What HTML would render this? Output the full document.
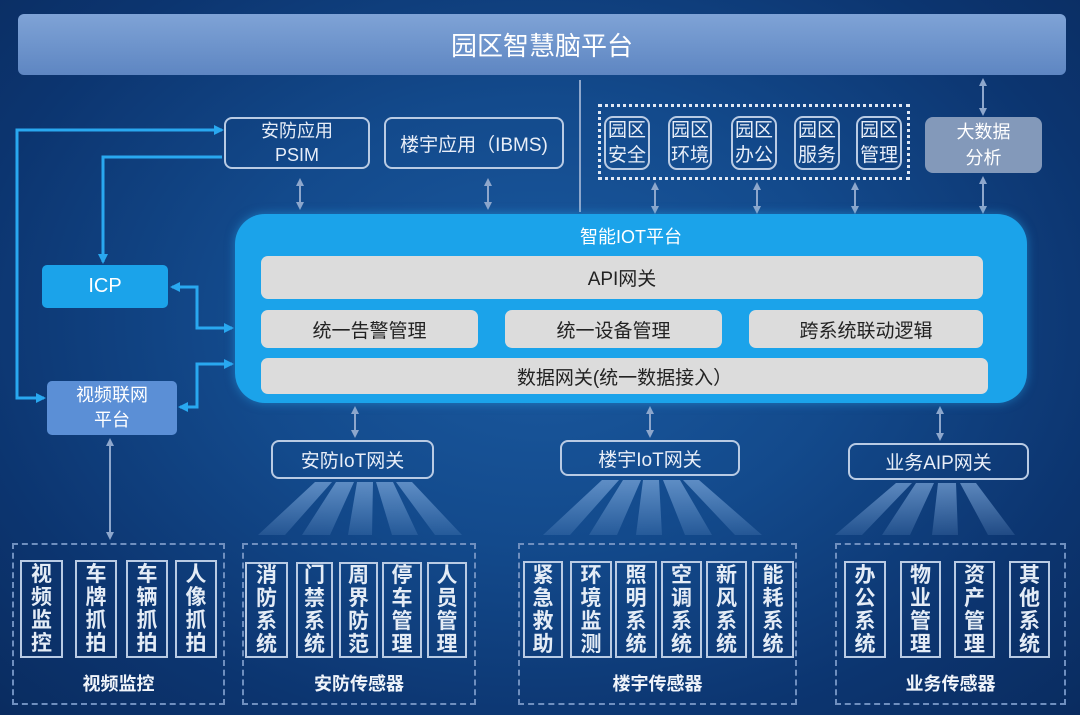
<!DOCTYPE html>
<html><head><meta charset="utf-8"><style>
*{margin:0;padding:0;box-sizing:border-box}
body{width:1080px;height:715px;overflow:hidden;position:relative;font-family:"Liberation Sans","Noto Sans CJK SC",sans-serif;color:#fff;
background:radial-gradient(ellipse at 50% 45%,#1b5aa0 0%,#134a8c 40%,#0c3570 75%,#0a2c60 100%)}
.a{position:absolute;display:flex;align-items:center;justify-content:center;text-align:center}
.ob{border:2px solid #b9cbe4;border-radius:8px;color:#e8eef8}
.g{background:#dcdcdc;border-radius:7px;color:#222;font-size:19px}
.v{border:2px solid #b9cbe4;color:#e4ecf6;font-size:21px;line-height:23px;font-weight:bold}
.d{border:2px dashed #6f8fbf}
.lb{font-size:18px;font-weight:bold;color:#f0f4fa}
svg{position:absolute;left:0;top:0}
</style></head><body>
<div class="a" style="left:18px;top:14px;width:1048px;height:61px;background:linear-gradient(#7fa3d6,#5e86c2);border-radius:6px;font-size:26px;">园区智慧脑平台</div>

<svg width="1080" height="715">
<defs>
<marker id="ab" markerUnits="userSpaceOnUse" markerWidth="10" markerHeight="10" refX="8" refY="5" orient="auto"><path d="M0,0L10,5L0,10z" fill="#29a8f0"/></marker>
<marker id="ag" markerUnits="userSpaceOnUse" markerWidth="8" markerHeight="8" refX="6" refY="4" orient="auto-start-reverse"><path d="M0,0L8,4L0,8z" fill="#8ea7cc"/></marker>
<linearGradient id="fan" x1="0" y1="0" x2="0" y2="1"><stop offset="0" stop-color="#8fb8e8" stop-opacity=".6"/><stop offset="1" stop-color="#8fb8e8" stop-opacity=".15"/></linearGradient>
</defs>
<g fill="none" stroke="#29a8f0" stroke-width="3">
<path d="M222,130H17V398H44" marker-end="url(#ab)"/>
<path d="M17,130H222" marker-end="url(#ab)"/>
<path d="M222,157H103V262" marker-end="url(#ab)"/>
<path d="M197,328V287H172" marker-end="url(#ab)"/>
<path d="M197,287V328H232" marker-end="url(#ab)"/>
<path d="M197,407V364H232" marker-end="url(#ab)"/>
<path d="M197,364V407H180" marker-end="url(#ab)"/>
</g>
<g stroke="#8ea7cc" stroke-width="2" fill="none">
<path d="M300,180V208" marker-start="url(#ag)" marker-end="url(#ag)"/>
<path d="M488,180V208" marker-start="url(#ag)" marker-end="url(#ag)"/>
<path d="M580,80V212"/>
<path d="M655,184V212" marker-start="url(#ag)" marker-end="url(#ag)"/>
<path d="M757,184V212" marker-start="url(#ag)" marker-end="url(#ag)"/>
<path d="M855,184V212" marker-start="url(#ag)" marker-end="url(#ag)"/>
<path d="M983,80V114" marker-start="url(#ag)" marker-end="url(#ag)"/>
<path d="M983,178V212" marker-start="url(#ag)" marker-end="url(#ag)"/>
<path d="M355,408V436" marker-start="url(#ag)" marker-end="url(#ag)"/>
<path d="M650,408V436" marker-start="url(#ag)" marker-end="url(#ag)"/>
<path d="M940,408V439" marker-start="url(#ag)" marker-end="url(#ag)"/>
<path d="M110,440V538" marker-start="url(#ag)" marker-end="url(#ag)"/>
</g>
<g fill="url(#fan)">
<path d="M315,482L332,482L285,535L258,535z"/><path d="M336,482L354,482L330,535L302,535z"/><path d="M357,482L373,482L372,535L348,535z"/><path d="M376,482L393,482L418,535L392,535z"/><path d="M396,482L412,482L462,535L435,535z"/>
<path d="M602,480L619,480L570,535L543,535z"/><path d="M623,480L641,480L617,535L589,535z"/><path d="M643,480L659,480L662,535L636,535z"/><path d="M663,480L680,480L712,535L685,535z"/><path d="M683,480L699,480L762,535L735,535z"/>
<path d="M896,483L912,483L862,535L835,535z"/><path d="M916,483L934,483L910,535L882,535z"/><path d="M938,483L956,483L958,535L932,535z"/><path d="M960,483L976,483L1015,535L988,535z"/>
</g>
</svg>

<div class="a ob" style="left:224px;top:117px;width:146px;height:52px;font-size:18px;line-height:24px">安防应用<br>PSIM</div>
<div class="a ob" style="left:384px;top:117px;width:180px;height:52px;font-size:19px">楼宇应用（IBMS)</div>
<div class="a" style="left:598px;top:104px;width:312px;height:76px;border:3px dotted #e0e8f4"></div>
<div class="a ob" style="left:604px;top:116px;width:46px;height:54px;font-size:19px;line-height:25px;border-radius:9px">园区<br>安全</div>
<div class="a ob" style="left:668px;top:116px;width:44px;height:54px;font-size:19px;line-height:25px;border-radius:9px">园区<br>环境</div>
<div class="a ob" style="left:731px;top:116px;width:46px;height:54px;font-size:19px;line-height:25px;border-radius:9px">园区<br>办公</div>
<div class="a ob" style="left:794px;top:116px;width:46px;height:54px;font-size:19px;line-height:25px;border-radius:9px">园区<br>服务</div>
<div class="a ob" style="left:856px;top:116px;width:46px;height:54px;font-size:19px;line-height:25px;border-radius:9px">园区<br>管理</div>
<div class="a" style="left:925px;top:117px;width:117px;height:56px;background:#8399ba;border-radius:8px;font-size:18px;line-height:26px">大数据<br>分析</div>

<div class="a" style="left:235px;top:214px;width:792px;height:189px;background:#1ba3ea;border-radius:30px;box-shadow:0 0 10px rgba(40,170,240,.5)"></div>
<div class="a" style="left:235px;top:224px;width:792px;height:24px;font-size:18px">智能IOT平台</div>
<div class="a g" style="left:261px;top:256px;width:722px;height:43px">API网关</div>
<div class="a g" style="left:261px;top:310px;width:217px;height:38px">统一告警管理</div>
<div class="a g" style="left:505px;top:310px;width:217px;height:38px">统一设备管理</div>
<div class="a g" style="left:749px;top:310px;width:234px;height:38px">跨系统联动逻辑</div>
<div class="a g" style="left:261px;top:358px;width:727px;height:36px">数据网关(统一数据接入）</div>

<div class="a" style="left:42px;top:265px;width:126px;height:43px;background:#1ba3ea;border-radius:5px;font-size:20px">ICP</div>
<div class="a" style="left:47px;top:381px;width:130px;height:54px;background:#5b8fd6;border-radius:5px;font-size:18px;line-height:25px">视频联网<br>平台</div>

<div class="a ob" style="left:271px;top:440px;width:163px;height:39px;font-size:19px">安防IoT网关</div>
<div class="a ob" style="left:560px;top:440px;width:180px;height:36px;font-size:19px">楼宇IoT网关</div>
<div class="a ob" style="left:848px;top:443px;width:181px;height:37px;font-size:19px">业务AIP网关</div>

<div class="a d" style="left:12px;top:543px;width:213px;height:162px"></div>
<div class="a d" style="left:242px;top:543px;width:234px;height:162px"></div>
<div class="a d" style="left:518px;top:543px;width:279px;height:162px"></div>
<div class="a d" style="left:835px;top:543px;width:231px;height:162px"></div>

<div class="a v" style="left:20px;top:560px;width:43px;height:98px">视<br>频<br>监<br>控</div>
<div class="a v" style="left:75px;top:560px;width:42px;height:98px">车<br>牌<br>抓<br>拍</div>
<div class="a v" style="left:126px;top:560px;width:42px;height:98px">车<br>辆<br>抓<br>拍</div>
<div class="a v" style="left:175px;top:560px;width:42px;height:98px">人<br>像<br>抓<br>拍</div>

<div class="a v" style="left:245px;top:562px;width:43px;height:96px">消<br>防<br>系<br>统</div>
<div class="a v" style="left:296px;top:562px;width:37px;height:96px">门<br>禁<br>系<br>统</div>
<div class="a v" style="left:339px;top:562px;width:39px;height:96px">周<br>界<br>防<br>范</div>
<div class="a v" style="left:382px;top:562px;width:40px;height:96px">停<br>车<br>管<br>理</div>
<div class="a v" style="left:427px;top:562px;width:40px;height:96px">人<br>员<br>管<br>理</div>

<div class="a v" style="left:523px;top:561px;width:40px;height:97px">紧<br>急<br>救<br>助</div>
<div class="a v" style="left:570px;top:561px;width:42px;height:97px">环<br>境<br>监<br>测</div>
<div class="a v" style="left:615px;top:561px;width:42px;height:97px">照<br>明<br>系<br>统</div>
<div class="a v" style="left:661px;top:561px;width:41px;height:97px">空<br>调<br>系<br>统</div>
<div class="a v" style="left:706px;top:561px;width:41px;height:97px">新<br>风<br>系<br>统</div>
<div class="a v" style="left:752px;top:561px;width:42px;height:97px">能<br>耗<br>系<br>统</div>

<div class="a v" style="left:844px;top:561px;width:42px;height:97px">办<br>公<br>系<br>统</div>
<div class="a v" style="left:900px;top:561px;width:41px;height:97px">物<br>业<br>管<br>理</div>
<div class="a v" style="left:954px;top:561px;width:41px;height:97px">资<br>产<br>管<br>理</div>
<div class="a v" style="left:1009px;top:561px;width:41px;height:97px">其<br>他<br>系<br>统</div>

<div class="a lb" style="left:12px;top:670px;width:213px;height:26px">视频监控</div>
<div class="a lb" style="left:242px;top:670px;width:234px;height:26px">安防传感器</div>
<div class="a lb" style="left:518px;top:670px;width:279px;height:26px">楼宇传感器</div>
<div class="a lb" style="left:835px;top:670px;width:231px;height:26px">业务传感器</div>
</body></html>
